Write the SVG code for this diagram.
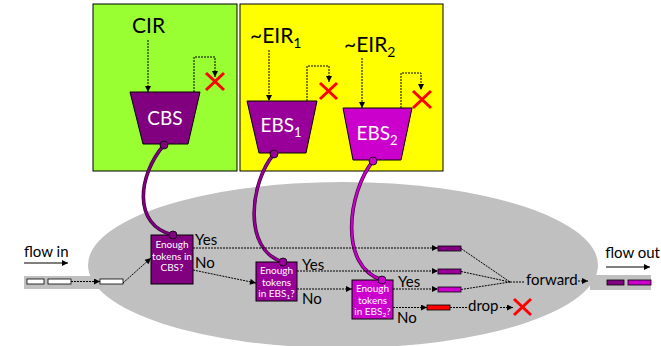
<svg xmlns="http://www.w3.org/2000/svg" width="661" height="346" viewBox="0 0 661 346">
  <defs>
    <marker id="ah" viewBox="0 0 10 10" refX="10" refY="5" markerWidth="8" markerHeight="6" orient="auto" markerUnits="userSpaceOnUse">
      <path d="M0,0 L10,5 L0,10 z" fill="#000"/>
    </marker>
    <style>
      text { font-family: Lato, "Liberation Sans", sans-serif; fill: #000; }
      .dot { fill: none; stroke: #000; stroke-width: 1; stroke-dasharray: 2 1; }
      .arr { marker-end: url(#ah); }
      .big { font-size: 21px; }
      .bk  { font-size: 19px; fill: #fff; text-anchor: middle; }
      .lbl { font-size: 15px; }
      .dec { font-size: 10px; fill: #fff; text-anchor: middle; }
      .edge { stroke: #000; stroke-width: 1; }
      .x { stroke: #ff0000; stroke-width: 3; }
      .bar { stroke: #000; stroke-width: 0.8; }
      .link-o { fill: none; stroke: #3a003a; stroke-width: 3.6; }
      .link { fill: none; stroke-width: 2.2; }
    </style>
  </defs>

  <!-- background regions -->
  <g id="cbs-panel">
    <rect x="93" y="4" width="144" height="167" fill="#99ff33" class="edge"/>
  </g>
  <g id="ebs-panel">
    <rect x="240" y="4" width="203" height="167" fill="#ffff00" class="edge"/>
  </g>
  <g id="pipeline">
    <ellipse cx="343" cy="265" rx="255" ry="83" fill="#c0c0c0"/>
    <rect x="24" y="276" width="90" height="13" fill="#c0c0c0"/>
    <rect x="590" y="275" width="61" height="15" fill="#c0c0c0"/>
  </g>

  <!-- token buckets -->
  <g id="cbs">
    <text x="132" y="33" class="big">CIR</text>
    <polygon points="130,92 200,92 188,144 143,144" fill="#800080" class="edge"/>
    <text x="165" y="125" class="bk">CBS</text>
  </g>
  <g id="ebs1">
    <text x="250" y="43" class="big">~EIR<tspan font-size="14" dy="5">1</tspan></text>
    <polygon points="247,101 317,101 306,153 259,153" fill="#990099" class="edge"/>
    <text x="281" y="132" class="bk">EBS<tspan font-size="13" dy="5">1</tspan></text>
  </g>
  <g id="ebs2">
    <text x="344" y="52" class="big">~EIR<tspan font-size="14" dy="5">2</tspan></text>
    <polygon points="343,108 412,108 401,160 353,160" fill="#cc00cc" class="edge"/>
    <text x="377" y="140" class="bk">EBS<tspan font-size="13" dy="5">2</tspan></text>
  </g>

  <!-- overflow drops -->
  <g id="overflow-marks">
    <path d="M206,73 L224,90 M224,73 L206,90" class="x"/>
    <path d="M320,83 L337,99 M337,83 L320,99" class="x"/>
    <path d="M413,91 L431,108 M431,91 L413,108" class="x"/>
    <path d="M514,299 L531,315 M531,299 L514,315" class="x"/>
  </g>

  <!-- decisions -->
  <g id="check-cbs">
    <rect x="151" y="235" width="42" height="49" fill="#800080" class="edge"/>
    <text class="dec"><tspan x="172" y="248">Enough</tspan><tspan x="172" y="259.5">tokens in</tspan><tspan x="172" y="271">CBS?</tspan></text>
    <text x="195" y="245" class="lbl">Yes</text>
    <text x="195" y="268" class="lbl">No</text>
  </g>
  <g id="check-ebs1">
    <rect x="256" y="262" width="41" height="39" fill="#990099" class="edge"/>
    <text class="dec"><tspan x="276.5" y="274">Enough</tspan><tspan x="276.5" y="285.5">tokens</tspan><tspan x="276.5" y="297">in EBS<tspan font-size="6.5" dy="1.5">1</tspan><tspan dy="-1.5">?</tspan></tspan></text>
    <text x="302" y="270" class="lbl">Yes</text>
    <text x="302" y="304" class="lbl">No</text>
  </g>
  <g id="check-ebs2">
    <rect x="352" y="280" width="41" height="39" fill="#cc00cc" class="edge"/>
    <text class="dec"><tspan x="372.5" y="292">Enough</tspan><tspan x="372.5" y="303.5">tokens</tspan><tspan x="372.5" y="315">in EBS<tspan font-size="6.5" dy="1.5">2</tspan><tspan dy="-1.5">?</tspan></tspan></text>
    <text x="398" y="287" class="lbl">Yes</text>
    <text x="397" y="323" class="lbl">No</text>
  </g>

  <!-- packets -->
  <g id="flow-in">
    <text x="24" y="257" class="lbl">flow in</text>
    <rect x="27" y="279" width="17" height="5" fill="#fff" class="bar"/>
    <rect x="48" y="279" width="23" height="5" fill="#fff" class="bar"/>
    <rect x="100" y="279" width="23" height="5" fill="#fff" class="bar"/>
  </g>
  <g id="queued">
    <rect x="438" y="246" width="23" height="5" fill="#800080" class="bar"/>
    <rect x="438" y="269" width="23" height="5" fill="#990099" class="bar"/>
    <rect x="438" y="287" width="23" height="5" fill="#cc00cc" class="bar"/>
    <rect x="427" y="305" width="23" height="5" fill="#ff0000" class="bar"/>
  </g>
  <g id="forward">
    <text x="526" y="285" class="lbl">forward</text>
  </g>
  <g id="drop">
    <text x="468" y="311" class="lbl">drop</text>
  </g>
  <g id="flow-out">
    <text x="660" y="258" class="lbl" text-anchor="end">flow out</text>
    <rect x="607" y="280" width="17" height="5" fill="#800080" class="bar"/>
    <rect x="628" y="280" width="23" height="5" fill="#cc00cc" class="bar"/>
  </g>

  <!-- connectors -->
  <g id="connectors">
    <!-- rate inputs and overflow loops -->
    <path d="M148,40 V92" class="dot arr"/>
    <path d="M194,92 V57 H215 V77" class="dot arr"/>
    <path d="M269,50 V101" class="dot arr"/>
    <path d="M307,101 V66 H329 V82" class="dot arr"/>
    <path d="M362,58 V108" class="dot arr"/>
    <path d="M401,108 V73 H421 V90" class="dot arr"/>

    <!-- bucket links -->
    <path d="M164,145 C138,175 132,225 173,235" class="link-o"/>
    <path d="M164,145 C138,175 132,225 173,235" class="link" stroke="#800080"/>
    <path d="M274,154 C250,182 242,250 283,262" class="link-o"/>
    <path d="M274,154 C250,182 242,250 283,262" class="link" stroke="#990099"/>
    <path d="M373,161 C348,192 338,266 382,280" class="link-o"/>
    <path d="M373,161 C348,192 338,266 382,280" class="link" stroke="#cc00cc"/>
    <g stroke="#000" stroke-width="0.8">
      <circle cx="164" cy="145" r="4" fill="#800080"/>
      <circle cx="173" cy="235" r="4" fill="#800080"/>
      <circle cx="274" cy="154" r="4" fill="#990099"/>
      <circle cx="283" cy="262" r="4" fill="#990099"/>
      <circle cx="373" cy="161" r="4" fill="#cc00cc"/>
      <circle cx="382" cy="280" r="4" fill="#cc00cc"/>
    </g>

    <!-- flow direction arrows -->
    <path d="M24,263 H68" stroke="#000" stroke-width="1.2" class="arr"/>
    <path d="M606,267 H650" stroke="#000" stroke-width="1.2" class="arr"/>

    <!-- packet path -->
    <path d="M71,281.5 H100" class="dot arr"/>
    <path d="M123,283 L151,258" class="dot arr"/>
    <path d="M193,248 H438" class="dot arr"/>
    <path d="M193,270 L256,283" class="dot arr"/>
    <path d="M297,271 H438" class="dot arr"/>
    <path d="M297,289 H352" class="dot arr"/>
    <path d="M393,289 H438" class="dot arr"/>
    <path d="M393,307.5 H427" class="dot arr"/>
    <path d="M461,248.5 L510,282 M461,271.5 L510,282 M461,289.5 L510,282 M510,282 H525" class="dot"/>
    <path d="M578,281 H588" class="dot arr"/>
    <path d="M450,307.5 H467" class="dot"/>
    <path d="M500,307.5 H513" class="dot arr"/>
  </g>
</svg>
